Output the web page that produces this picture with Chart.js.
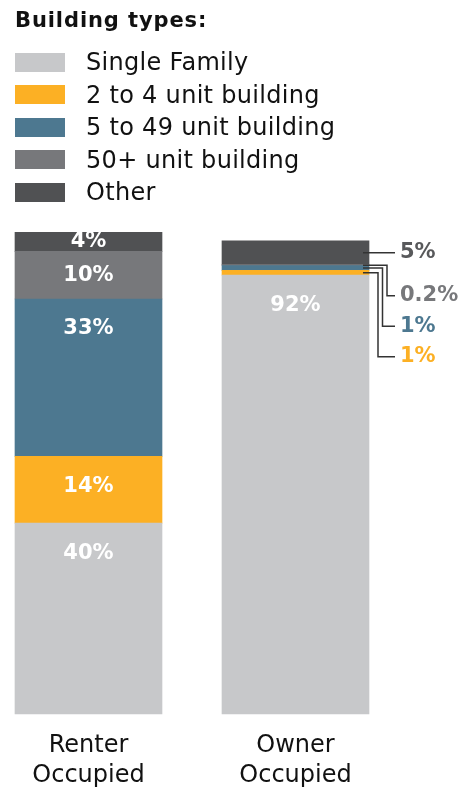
<!DOCTYPE html>
<html>
<head>
<meta charset="utf-8">
<title>Building types</title>
<script src="https://cdn.jsdelivr.net/npm/chart.js"></script>
<style>
  html, body { margin: 0; padding: 0; background: #fff; }
  #wrap { position: relative; width: 476px; height: 789px; overflow: hidden; }
  #chart { position: absolute; left: 0; top: 0; }
  #legend { position: absolute; left: 15px; top: 0; font-family: "DejaVu Sans", sans-serif; color: #111; }
  #legend h3 { position: absolute; top: 8px; left: 0; margin: 0; font-size: 21px; line-height: 25px; font-weight: bold; letter-spacing: 0.9px; white-space: nowrap; }
  #legend ul { position: absolute; top: 46px; left: 0; margin: 0; padding: 0; list-style: none; }
  #legend li { display: flex; align-items: center; height: 32.5px; font-size: 24px; letter-spacing: 0.3px; white-space: nowrap; }
  #legend .box { display: inline-block; width: 50px; height: 19px; margin-right: 21px; }
</style>
</head>
<body>
<div id="wrap">
  <canvas id="chart" width="476" height="789"></canvas>
  <div id="legend">
    <h3>Building types:</h3>
    <ul id="legend-list"></ul>
  </div>
</div>
<script>
const categories = [['Renter', 'Occupied'], ['Owner', 'Occupied']];
const buildingTypes = ['Single Family', '2 to 4 unit building', '5 to 49 unit building', '50+ unit building', 'Other'];

// percent of units, per category (renter, owner)
const singleFamily = [40, 92];
const twoToFour = [14, 1];
const fiveToFortyNine = [33, 1];
const fiftyPlus = [10, 0.2];
const other = [4, 5];

const colors = ['#c7c8ca', '#fcb024', '#4d7890', '#77787b', '#505153'];
const seriesValues = [singleFamily, twoToFour, fiveToFortyNine, fiftyPlus, other];

function fmt(v) {
  return v + '%';
}

// labels inside the bars + callouts for the thin owner segments
const barLabels = {
  id: 'barLabels',
  afterDatasetsDraw(chart) {
    const ctx = chart.ctx;
    ctx.save();
    ctx.font = 'bold 21px "DejaVu Sans"';
    ctx.textBaseline = 'middle';

    chart.data.datasets.forEach((ds, i) => {
      const meta = chart.getDatasetMeta(i);
      meta.data.forEach((bar, j) => {
        if (j === 1 && i > 0) return;
        const top = Math.min(bar.y, bar.base);
        const h = Math.abs(bar.base - bar.y);
        ctx.fillStyle = '#fff';
        ctx.textAlign = 'center';
        ctx.fillText(fmt(ds.data[j]), bar.x, top + Math.min(h / 2, 30));
      });
    });

    // owner bar callouts, top segment first
    ctx.textAlign = 'left';
    ctx.strokeStyle = '#333';
    ctx.lineWidth = 1.5;
    let firstY = 0;
    let k = 0;
    for (let i = chart.data.datasets.length - 1; i > 0; i--) {
      const bar = chart.getDatasetMeta(i).data[1];
      const right = bar.x + bar.width / 2;
      const cy = (bar.y + bar.base) / 2;
      let labelY;
      ctx.beginPath();
      ctx.moveTo(right - 6, cy);
      if (k === 0) {
        labelY = cy;
        firstY = cy;
        ctx.lineTo(right + 26, cy);
      } else {
        labelY = firstY + 43 + (k - 1) * 30.5;
        const elbow = right + 18 - (k - 1) * 4.5;
        ctx.lineTo(elbow, cy);
        ctx.lineTo(elbow, labelY);
        ctx.lineTo(right + 26, labelY);
      }
      ctx.stroke();
      ctx.fillStyle = i === 4 ? '#58595b' : colors[i];
      ctx.fillText(fmt(chart.data.datasets[i].data[1]), right + 31, labelY);
      k++;
    }
    ctx.restore();
  }
};

const ctx = document.getElementById('chart').getContext('2d');
const chart = new Chart(ctx, {
  type: 'bar',
  data: {
    labels: categories,
    datasets: buildingTypes.map((name, i) => ({
      label: name,
      data: seriesValues[i],
      backgroundColor: colors[i],
      borderWidth: 0,
      barThickness: 147,
      clip: false
    }))
  },
  options: {
    responsive: false,
    animation: false,
    layout: {
      padding: { top: 237, left: 88.5, right: 180.5, bottom: -19 }
    },
    plugins: {
      legend: { display: false },
      tooltip: { enabled: false }
    },
    scales: {
      x: {
        stacked: true,
        offset: false,
        grid: { display: false, drawTicks: false },
        border: { display: false },
        ticks: {
          padding: 17,
          color: '#111',
          font: { family: 'DejaVu Sans', size: 24, lineHeight: 1.25 }
        }
      },
      y: {
        stacked: true,
        display: false,
        min: 0,
        max: 100
      }
    }
  },
  plugins: [barLabels]
});

// legend list built from the chart's datasets
const list = document.getElementById('legend-list');
chart.data.datasets.forEach(ds => {
  const li = document.createElement('li');
  const box = document.createElement('span');
  box.className = 'box';
  box.style.background = ds.backgroundColor;
  li.appendChild(box);
  li.appendChild(document.createTextNode(ds.label));
  list.appendChild(li);
});
</script>
</body>
</html>
